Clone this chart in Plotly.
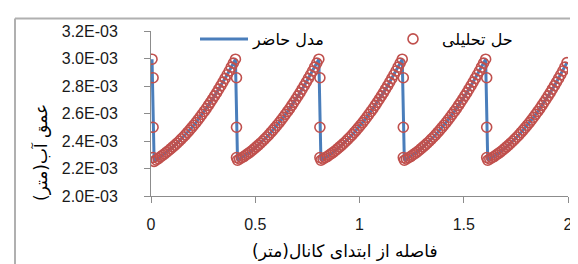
import plotly.graph_objects as go

# ---------------- data ----------------
# Analytical solution (distance from channel start [m], depth [mm])
dist_analytic = [
    0.005, 0.015, 0.025, 0.035, 0.045, 0.055, 0.065, 0.075, 0.085, 0.095,
    0.105, 0.115, 0.125, 0.135, 0.145, 0.155, 0.165, 0.175, 0.185, 0.195,
    0.205, 0.215, 0.225, 0.235, 0.245, 0.255, 0.265, 0.275, 0.285, 0.295,
    0.305, 0.315, 0.325, 0.335, 0.345, 0.355, 0.365, 0.375, 0.385, 0.395,
    0.405, 0.415, 0.425, 0.435, 0.445, 0.455, 0.465, 0.475, 0.485, 0.495,
    0.505, 0.515, 0.525, 0.535, 0.545, 0.555, 0.565, 0.575, 0.585, 0.595,
    0.605, 0.615, 0.625, 0.635, 0.645, 0.655, 0.665, 0.675, 0.685, 0.695,
    0.705, 0.715, 0.725, 0.735, 0.745, 0.755, 0.765, 0.775, 0.785, 0.795,
    0.805, 0.815, 0.825, 0.835, 0.845, 0.855, 0.865, 0.875, 0.885, 0.895,
    0.905, 0.915, 0.925, 0.935, 0.945, 0.955, 0.965, 0.975, 0.985, 0.995,
    1.005, 1.015, 1.025, 1.035, 1.045, 1.055, 1.065, 1.075, 1.085, 1.095,
    1.105, 1.115, 1.125, 1.135, 1.145, 1.155, 1.165, 1.175, 1.185, 1.195,
    1.205, 1.215, 1.225, 1.235, 1.245, 1.255, 1.265, 1.275, 1.285, 1.295,
    1.305, 1.315, 1.325, 1.335, 1.345, 1.355, 1.365, 1.375, 1.385, 1.395,
    1.405, 1.415, 1.425, 1.435, 1.445, 1.455, 1.465, 1.475, 1.485, 1.495,
    1.505, 1.515, 1.525, 1.535, 1.545, 1.555, 1.565, 1.575, 1.585, 1.595,
    1.605, 1.615, 1.625, 1.635, 1.645, 1.655, 1.665, 1.675, 1.685, 1.695,
    1.705, 1.715, 1.725, 1.735, 1.745, 1.755, 1.765, 1.775, 1.785, 1.795,
    1.805, 1.815, 1.825, 1.835, 1.845, 1.855, 1.865, 1.875, 1.885, 1.895,
    1.905, 1.915, 1.925, 1.935, 1.945, 1.955, 1.965, 1.975, 1.985, 1.995,
]
depth_analytic_mm = [
    2.995,
    2.252, 2.262, 2.272, 2.285, 2.296, 2.307, 2.319, 2.331, 2.344, 2.357,
    2.370, 2.384, 2.398, 2.414, 2.429, 2.445, 2.462, 2.479, 2.497, 2.515,
    2.534, 2.553, 2.573, 2.594, 2.615, 2.636, 2.659, 2.681, 2.704, 2.728,
    2.752, 2.777, 2.802, 2.828, 2.855, 2.882, 2.909, 2.937, 2.966, 2.995,
    2.260, 2.269, 2.278, 2.287, 2.298, 2.308, 2.319, 2.331, 2.344, 2.357,
    2.370, 2.384, 2.398, 2.414, 2.429, 2.445, 2.462, 2.479, 2.497, 2.515,
    2.534, 2.553, 2.573, 2.594, 2.615, 2.636, 2.659, 2.681, 2.704, 2.728,
    2.752, 2.777, 2.802, 2.828, 2.855, 2.882, 2.909, 2.937, 2.966, 2.995,
    2.260, 2.269, 2.278, 2.287, 2.298, 2.308, 2.319, 2.331, 2.344, 2.357,
    2.370, 2.384, 2.398, 2.414, 2.429, 2.445, 2.462, 2.479, 2.497, 2.515,
    2.534, 2.553, 2.573, 2.594, 2.615, 2.636, 2.659, 2.681, 2.704, 2.728,
    2.752, 2.777, 2.802, 2.828, 2.855, 2.882, 2.909, 2.937, 2.966, 2.995,
    2.260, 2.269, 2.278, 2.287, 2.298, 2.308, 2.319, 2.331, 2.344, 2.357,
    2.370, 2.384, 2.398, 2.414, 2.429, 2.445, 2.462, 2.479, 2.497, 2.515,
    2.534, 2.553, 2.573, 2.594, 2.615, 2.636, 2.659, 2.681, 2.704, 2.728,
    2.752, 2.777, 2.802, 2.828, 2.855, 2.882, 2.909, 2.937, 2.966, 2.995,
    2.260, 2.269, 2.278, 2.287, 2.298, 2.308, 2.319, 2.331, 2.344, 2.357,
    2.370, 2.384, 2.398, 2.414, 2.429, 2.445, 2.462, 2.479, 2.497, 2.515,
    2.534, 2.553, 2.573, 2.594, 2.615, 2.636, 2.659, 2.681, 2.704, 2.728,
    2.752, 2.777, 2.802, 2.828, 2.855, 2.882, 2.909, 2.937, 2.970,
]
# Analytical points lying on the sudden drops
drop_dist = [0.01, 0.01, 0.01, 0.41, 0.41, 0.41, 0.81, 0.81, 0.81,
             1.21, 1.21, 1.21, 1.61, 1.61, 1.61]
drop_depth_mm = [2.86, 2.50, 2.28, 2.86, 2.50, 2.28, 2.86, 2.50, 2.28,
                 2.86, 2.50, 2.28, 2.86, 2.50, 2.28]

# Present model (distance [m], depth [mm])
dist_model = [
    0.005,
    0.015, 0.035, 0.055, 0.075, 0.095, 0.115, 0.135, 0.155, 0.175, 0.195,
    0.215, 0.235, 0.255, 0.275, 0.295, 0.315, 0.335, 0.355, 0.375, 0.395, 0.405,
    0.415, 0.435, 0.455, 0.475, 0.495, 0.515, 0.535, 0.555, 0.575, 0.595,
    0.615, 0.635, 0.655, 0.675, 0.695, 0.715, 0.735, 0.755, 0.775, 0.795, 0.805,
    0.815, 0.835, 0.855, 0.875, 0.895, 0.915, 0.935, 0.955, 0.975, 0.995,
    1.015, 1.035, 1.055, 1.075, 1.095, 1.115, 1.135, 1.155, 1.175, 1.195, 1.205,
    1.215, 1.235, 1.255, 1.275, 1.295, 1.315, 1.335, 1.355, 1.375, 1.395,
    1.415, 1.435, 1.455, 1.475, 1.495, 1.515, 1.535, 1.555, 1.575, 1.595, 1.605,
    1.615, 1.635, 1.655, 1.675, 1.695, 1.715, 1.735, 1.755, 1.775, 1.795,
    1.815, 1.835, 1.855, 1.875, 1.895, 1.915, 1.935, 1.955, 1.975, 1.995,
]
depth_model_mm = [
    2.995,
    2.252, 2.272, 2.296, 2.319, 2.344, 2.370, 2.398, 2.429, 2.462, 2.497,
    2.534, 2.573, 2.615, 2.659, 2.704, 2.752, 2.802, 2.855, 2.909, 2.966, 2.995,
    2.260, 2.278, 2.298, 2.319, 2.344, 2.370, 2.398, 2.429, 2.462, 2.497,
    2.534, 2.573, 2.615, 2.659, 2.704, 2.752, 2.802, 2.855, 2.909, 2.966, 2.995,
    2.260, 2.278, 2.298, 2.319, 2.344, 2.370, 2.398, 2.429, 2.462, 2.497,
    2.534, 2.573, 2.615, 2.659, 2.704, 2.752, 2.802, 2.855, 2.909, 2.966, 2.995,
    2.260, 2.278, 2.298, 2.319, 2.344, 2.370, 2.398, 2.429, 2.462, 2.497,
    2.534, 2.573, 2.615, 2.659, 2.704, 2.752, 2.802, 2.855, 2.909, 2.966, 2.995,
    2.260, 2.278, 2.298, 2.319, 2.344, 2.370, 2.398, 2.429, 2.462, 2.497,
    2.534, 2.573, 2.615, 2.659, 2.704, 2.752, 2.802, 2.855, 2.909, 2.970,
]

x_ticks = [0, 0.5, 1, 1.5, 2]
x_tick_text = ["0", "0.5", "1", "1.5", "2"]
y_ticks = [0.0020, 0.0022, 0.0024, 0.0026, 0.0028, 0.0030, 0.0032]
y_tick_text = ["2.0E-03", "2.2E-03", "2.4E-03", "2.6E-03", "2.8E-03", "3.0E-03", "3.2E-03"]

name_model = "مدل حاضر"
name_analytic = "حل تحلیلی"
x_title = "فاصله از ابتدای کانال(متر)"
y_title = "عمق آب(متر)"

# ---------------- figure ----------------
W, H = 578, 264
ML, MR, MT, MB = 143, 18, 23, 76
PW, PH = W - ML - MR, H - MT - MB


def px(xp):
    return (xp - ML) / PW


def py(yp):
    return (H - MB - yp) / PH


fig = go.Figure()
fig.add_trace(go.Scatter(
    x=dist_model, y=[d * 1e-3 for d in depth_model_mm],
    mode="lines", name=name_model,
    line=dict(color="#4A7EBB", width=3),
))
fig.add_trace(go.Scatter(
    x=dist_analytic + drop_dist,
    y=[d * 1e-3 for d in depth_analytic_mm + drop_depth_mm],
    mode="markers", name=name_analytic,
    marker=dict(symbol="circle-open", size=10, color="#C0504D",
                line=dict(width=1.6, color="#C0504D")),
))

axis_common = dict(
    showgrid=False, zeroline=False, showline=True,
    linecolor="#8C8C8C", linewidth=1,
    ticks="outside", ticklen=6, tickcolor="#8C8C8C", tickwidth=1,
    tickfont=dict(family="Liberation Sans, Arial, sans-serif", size=16, color="#1a1a1a"),
    automargin=False,
)
fig.update_xaxes(range=[0, 2], tickvals=x_ticks, ticktext=x_tick_text,
                 ticklabelstandoff=8, **axis_common)
fig.update_yaxes(range=[0.0020, 0.0032], tickvals=y_ticks, ticktext=y_tick_text,
                 ticklabelstandoff=23, **axis_common)

fig.update_layout(
    width=W, height=H,
    margin=dict(l=ML, r=MR, t=MT, b=MB, autoexpand=False),
    paper_bgcolor="white", plot_bgcolor="white",
    showlegend=True,
    legend=dict(
        orientation="h",
        x=px(187), y=py(14), xanchor="left", yanchor="top",
        bgcolor="rgba(0,0,0,0)", borderwidth=0,
        font=dict(family="DejaVu Sans, sans-serif", size=16, color="#000"),
        itemwidth=48, entrywidth=126,
    ),
    annotations=[
        dict(text=x_title, xref="paper", yref="paper", x=px(337), y=py(243),
             xanchor="center", yanchor="middle", showarrow=False,
             font=dict(family="DejaVu Sans, sans-serif", size=17, color="#000")),
        dict(text=y_title, xref="paper", yref="paper", x=px(32), y=py(145),
             xanchor="center", yanchor="middle", showarrow=False, textangle=-90,
             font=dict(family="DejaVu Sans, sans-serif", size=17, color="#000")),
    ],
    shapes=[
        dict(type="line", xref="paper", yref="paper", x0=px(7), x1=px(590), y0=py(10.5), y1=py(10.5),
             line=dict(color="#B0B0B0", width=2)),
        dict(type="line", xref="paper", yref="paper", x0=px(7), x1=px(7), y0=py(10.5), y1=py(280),
             line=dict(color="#B0B0B0", width=2)),
    ],
)

fig.write_html("out.html")
